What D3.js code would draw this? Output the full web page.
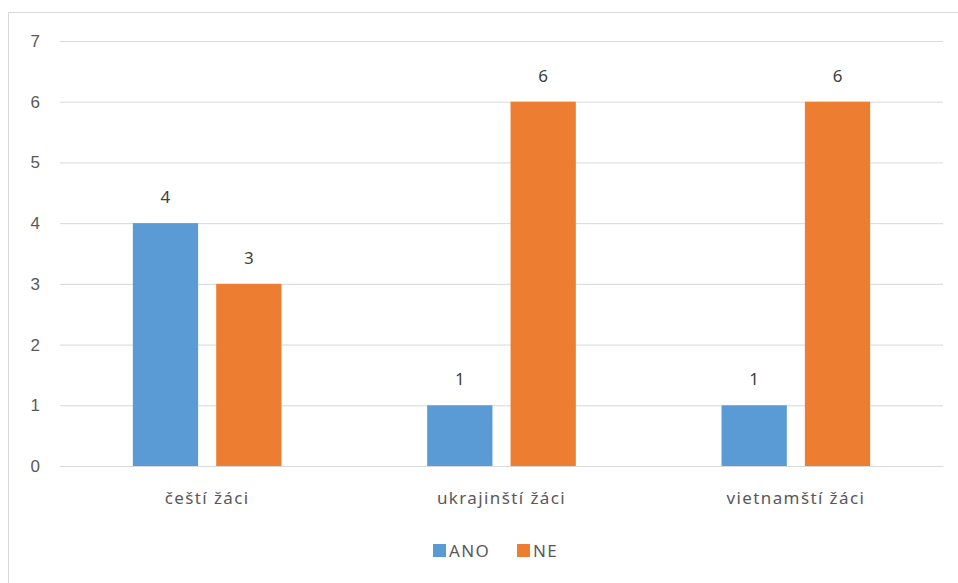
<!DOCTYPE html>
<html>
<head>
<meta charset="utf-8">
<script src="https://cdn.jsdelivr.net/npm/d3@7"></script>
<style>
  body { margin: 0; background: #fff; }
  svg { display: block; font-family: "Noto Sans", "Open Sans", sans-serif; }
</style>
</head>
<body>
<svg id="chart" width="958" height="583"></svg>
<script>
const categories = ["čeští žáci", "ukrajinští žáci", "vietnamští žáci"];
const series = ["ANO", "NE"];
const anoValues = [4, 1, 1];
const neValues = [3, 6, 6];
const yTicks = [0, 1, 2, 3, 4, 5, 6, 7];

const colors = { ANO: "#5B9BD5", NE: "#ED7D31" };
const textColor = "#595959";
const fontSize = "17px";
const spacing = "1.4px";

const svg = d3.select("#chart");
const margin = { left: 60, right: 15, top: 41, bottom: 117 };
const width = 958, height = 583;

// chart frame
svg.append("rect")
  .attr("x", 8.5).attr("y", 12.5)
  .attr("width", 1000).attr("height", 1000)
  .attr("fill", "none")
  .attr("stroke", "#d9d9d9");

const y = d3.scaleLinear()
  .domain([0, 7])
  .range([height - margin.bottom, margin.top]);

const x0 = d3.scaleBand()
  .domain(categories)
  .range([margin.left, width - margin.right]);

// group takes about half the category band
const groupW = x0.bandwidth() * 0.505;
const x1 = d3.scaleBand()
  .domain(series)
  .range([(x0.bandwidth() - groupW) / 2, (x0.bandwidth() + groupW) / 2])
  .paddingInner(0.217);

// gridlines + y labels
const yAxis = svg.append("g")
  .attr("transform", `translate(${margin.left},0)`)
  .call(d3.axisLeft(y).tickValues(yTicks).tickFormat(d3.format("d"))
    .tickSize(-(width - margin.left - margin.right)).tickPadding(20));
yAxis.select(".domain").remove();
yAxis.selectAll(".tick line").attr("stroke", "#d9d9d9");
yAxis.selectAll(".tick text")
  .attr("fill", textColor)
  .style("font-size", fontSize);

// bars
const rows = categories.map((c, i) => ({ cat: c, values: [
  { key: "ANO", value: anoValues[i] },
  { key: "NE", value: neValues[i] }
]}));

const groups = svg.selectAll(".grp")
  .data(rows)
  .enter().append("g")
  .attr("transform", d => `translate(${x0(d.cat)},0)`);

groups.selectAll("rect")
  .data(d => d.values)
  .enter().append("rect")
  .attr("x", d => x1(d.key))
  .attr("y", d => y(d.value))
  .attr("width", x1.bandwidth())
  .attr("height", d => y(0) - y(d.value))
  .attr("fill", d => colors[d.key]);

groups.selectAll("text.val")
  .data(d => d.values)
  .enter().append("text")
  .attr("class", "val")
  .attr("x", d => x1(d.key) + x1.bandwidth() / 2)
  .attr("y", d => y(d.value) - 20)
  .attr("text-anchor", "middle")
  .attr("fill", "#404040")
  .style("font-size", fontSize)
  .text(d => d.value);

// category labels
svg.append("g")
  .selectAll("text")
  .data(categories)
  .enter().append("text")
  .attr("x", d => x0(d) + x0.bandwidth() / 2)
  .attr("y", 504)
  .attr("text-anchor", "middle")
  .attr("fill", textColor)
  .style("font-size", fontSize)
  .style("letter-spacing", spacing)
  .text(d => d);

// legend
const legendItems = [
  { key: "ANO", x: 433 },
  { key: "NE", x: 517 }
];
const legend = svg.append("g");
legendItems.forEach(it => {
  legend.append("rect")
    .attr("x", it.x).attr("y", 544)
    .attr("width", 13).attr("height", 13)
    .attr("fill", colors[it.key]);
  legend.append("text")
    .attr("x", it.x + 16).attr("y", 557)
    .attr("fill", textColor)
    .style("font-size", fontSize)
    .style("letter-spacing", spacing)
    .text(it.key);
});
</script>
</body>
</html>
